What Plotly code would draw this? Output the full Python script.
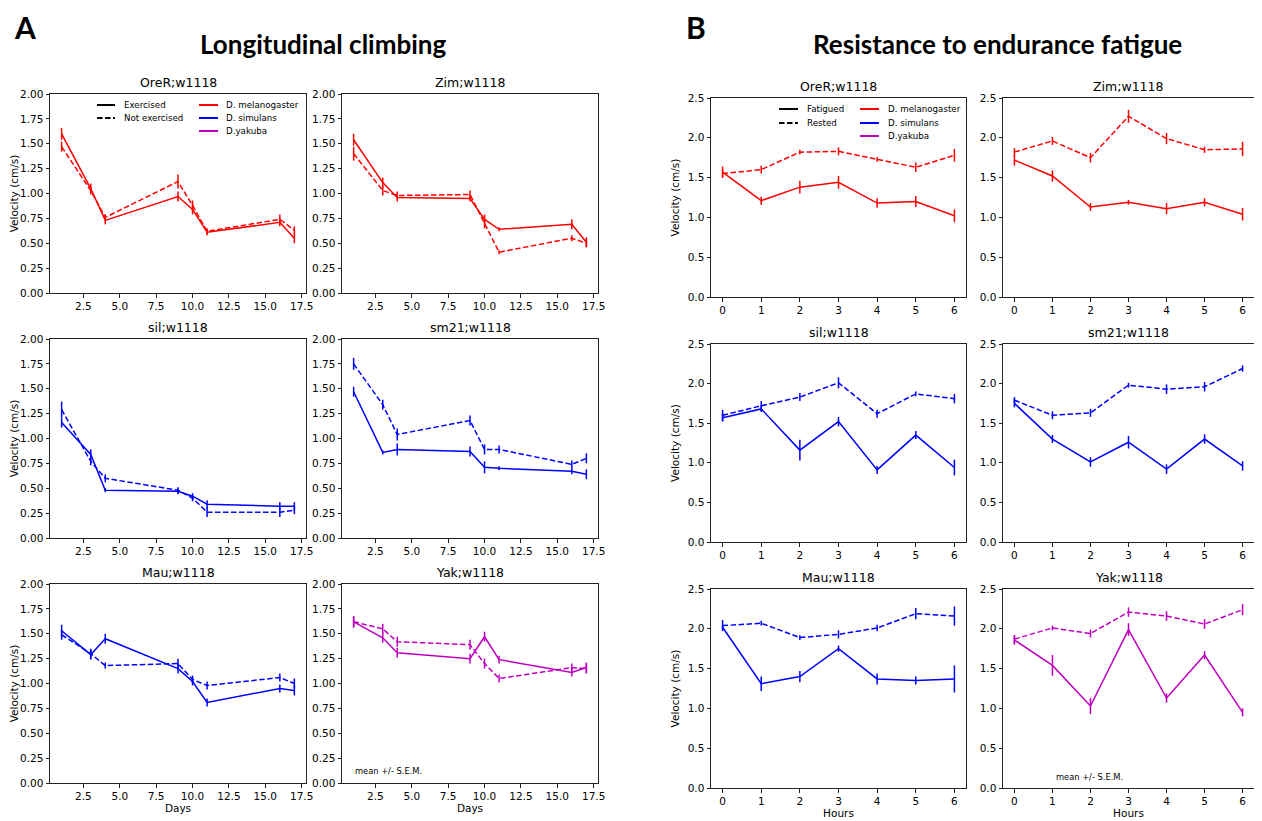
import plotly.graph_objects as go

W, H = 1262, 821
OFF = 8  # page body margin offset (pixels)

# ---------------- data ----------------
days = [1, 3, 4, 9, 10, 11, 16, 17]
hours = [0, 1, 2, 3, 4, 5, 6]

strains = ["OreR;w1118", "Zim;w1118", "sil;w1118", "sm21;w1118", "Mau;w1118", "Yak;w1118"]
strain_colors = ["#ff0000", "#ff0000", "#0000ff", "#0000ff", "#0000ff", "#bf00bf"]

# Panel A: longitudinal climbing (exercised = solid, not exercised = dashed)
climb_ex = [
    [1.60, 1.05, 0.73, 0.97, 0.84, 0.61, 0.71, 0.55],
    [1.54, 1.11, 0.96, 0.95, 0.74, 0.64, 0.69, 0.51],
    [1.16, 0.84, 0.48, 0.47, 0.42, 0.34, 0.32, 0.32],
    [1.47, 0.86, 0.89, 0.87, 0.71, 0.70, 0.67, 0.64],
    [1.53, 1.29, 1.45, 1.15, 1.02, 0.81, 0.95, 0.93],
    [1.62, 1.46, 1.31, 1.25, 1.47, 1.24, 1.11, 1.16],
]
climb_ex_err = [
    [0.06, 0.05, 0.04, 0.05, 0.05, 0.03, 0.04, 0.05],
    [0.06, 0.05, 0.04, 0.03, 0.05, 0.02, 0.05, 0.05],
    [0.05, 0.05, 0.02, 0.03, 0.03, 0.04, 0.04, 0.04],
    [0.05, 0.02, 0.06, 0.05, 0.06, 0.02, 0.03, 0.05],
    [0.06, 0.05, 0.05, 0.05, 0.04, 0.04, 0.04, 0.05],
    [0.06, 0.05, 0.05, 0.05, 0.05, 0.04, 0.04, 0.05],
]
climb_not = [
    [1.47, 1.03, 0.76, 1.12, 0.88, 0.62, 0.74, 0.63],
    [1.40, 1.03, 0.98, 0.99, 0.70, 0.41, 0.55, 0.50],
    [1.29, 0.77, 0.60, 0.48, 0.40, 0.26, 0.26, 0.28],
    [1.75, 1.34, 1.04, 1.18, 0.89, 0.89, 0.74, 0.80],
    [1.49, 1.30, 1.18, 1.20, 1.04, 0.98, 1.06, 1.00],
    [1.62, 1.55, 1.42, 1.39, 1.20, 1.05, 1.16, 1.15],
]
climb_not_err = [
    [0.05, 0.04, 0.03, 0.07, 0.05, 0.03, 0.05, 0.04],
    [0.07, 0.05, 0.04, 0.04, 0.05, 0.02, 0.03, 0.04],
    [0.08, 0.04, 0.04, 0.03, 0.03, 0.05, 0.05, 0.04],
    [0.06, 0.05, 0.06, 0.05, 0.05, 0.04, 0.04, 0.05],
    [0.05, 0.05, 0.03, 0.05, 0.04, 0.04, 0.04, 0.05],
    [0.05, 0.05, 0.05, 0.05, 0.05, 0.04, 0.04, 0.05],
]

# Panel B: endurance fatigue (fatigued = solid, rested = dashed)
fat = [
    [1.57, 1.21, 1.38, 1.44, 1.18, 1.20, 1.02],
    [1.72, 1.52, 1.13, 1.19, 1.11, 1.19, 1.04],
    [1.57, 1.68, 1.16, 1.52, 0.91, 1.35, 0.94],
    [1.75, 1.30, 1.01, 1.26, 0.92, 1.30, 0.96],
    [2.02, 1.31, 1.40, 1.75, 1.37, 1.35, 1.37],
    [1.86, 1.54, 1.03, 1.99, 1.13, 1.67, 0.95],
]
fat_err = [
    [0.07, 0.05, 0.08, 0.08, 0.06, 0.07, 0.08],
    [0.07, 0.07, 0.05, 0.03, 0.07, 0.05, 0.08],
    [0.05, 0.04, 0.13, 0.06, 0.05, 0.05, 0.10],
    [0.05, 0.05, 0.06, 0.08, 0.06, 0.06, 0.06],
    [0.03, 0.09, 0.07, 0.04, 0.07, 0.05, 0.17],
    [0.06, 0.13, 0.10, 0.08, 0.06, 0.05, 0.05],
]
rest = [
    [1.55, 1.60, 1.82, 1.83, 1.73, 1.63, 1.78],
    [1.82, 1.96, 1.75, 2.27, 1.99, 1.85, 1.86],
    [1.60, 1.72, 1.83, 2.01, 1.62, 1.87, 1.81],
    [1.79, 1.60, 1.63, 1.98, 1.93, 1.96, 2.19],
    [2.04, 2.07, 1.89, 1.93, 2.01, 2.19, 2.16],
    [1.87, 2.01, 1.94, 2.21, 2.16, 2.06, 2.24],
]
rest_err = [
    [0.05, 0.05, 0.03, 0.05, 0.03, 0.06, 0.08],
    [0.05, 0.05, 0.06, 0.08, 0.07, 0.04, 0.09],
    [0.07, 0.06, 0.05, 0.07, 0.05, 0.03, 0.06],
    [0.04, 0.05, 0.05, 0.03, 0.06, 0.06, 0.04],
    [0.07, 0.03, 0.03, 0.05, 0.04, 0.07, 0.12],
    [0.05, 0.03, 0.05, 0.06, 0.06, 0.06, 0.07],
]

species_names = ["D. melanogaster", "D. simulans", "D.yakuba"]
species_colors = ["#ff0000", "#0000ff", "#bf00bf"]

# ---------------- layout geometry (screen pixels) ----------------
A_cols = [(50, 306), (342, 598)]
A_rows = [(94, 293), (339, 538), (584, 783)]
B_cols = [(711, 966), (1003, 1254)]
B_rows = [(98, 297), (344, 542), (589, 788)]


def px_x(p):
    return (p - OFF) / W


def px_y(p):
    return 1 - (p - OFF) / H


def xd(a, b):
    return [px_x(a), px_x(b)]


def yd(top, bot):
    return [px_y(bot), px_y(top)]


FONT = "DejaVu Sans"
fig = go.Figure()
layout = dict(
    width=W, height=H, margin=dict(l=0, r=0, t=0, b=0, autoexpand=False),
    paper_bgcolor="white", plot_bgcolor="white", showlegend=False,
    font=dict(family=FONT, size=10.5, color="black"),
)
annotations = []
shapes = []

axis_common = dict(showgrid=False, zeroline=False, showline=True, linecolor="#222",
                   linewidth=1, mirror=True, ticks="outside", ticklen=3.5, tickwidth=1,
                   automargin=False,
                   tickcolor="#222", tickfont=dict(family=FONT, size=10.5, color="black"))

ax = 0
for panel in ["A", "B"]:
    for i in range(6):
        ax += 1
        r, c = divmod(i, 2)
        xn = "x" if ax == 1 else f"x{ax}"
        yn = "y" if ax == 1 else f"y{ax}"
        xk = "xaxis" if ax == 1 else f"xaxis{ax}"
        yk = "yaxis" if ax == 1 else f"yaxis{ax}"
        color = strain_colors[i]
        if panel == "A":
            cx, ry = A_cols[c], A_rows[r]
            xs = days
            s1, e1, s2, e2 = climb_ex[i], climb_ex_err[i], climb_not[i], climb_not_err[i]
            xa = dict(range=[0.2, 17.8], tickvals=[2.5, 5, 7.5, 10, 12.5, 15, 17.5], tickformat=".1f")
            ya = dict(range=[0, 2.0], tickvals=[0, 0.25, 0.5, 0.75, 1.0, 1.25, 1.5, 1.75, 2.0],
                      tickformat=".2f")
            xtitle = "Days"
        else:
            cx, ry = B_cols[c], B_rows[r]
            xs = hours
            s1, e1, s2, e2 = fat[i], fat_err[i], rest[i], rest_err[i]
            xa = dict(range=[-0.3, 6.3], tickvals=hours, tickformat="d")
            ya = dict(range=[0, 2.5], tickvals=[0, 0.5, 1.0, 1.5, 2.0, 2.5], tickformat=".1f")
            xtitle = "Hours"
        xa.update(axis_common, domain=xd(*cx), anchor=yn)
        ya.update(axis_common, domain=yd(*ry), anchor=xn)
        if c == 0:
            ya["title"] = dict(text="Velocity (cm/s)", font=dict(family=FONT, size=10.5), standoff=6)
        if r == 2:
            xa["title"] = dict(text=xtitle, font=dict(family=FONT, size=10.5), standoff=2)
        layout[xk] = xa
        layout[yk] = ya

        fig.add_trace(go.Scatter(
            x=xs, y=s2, mode="lines", xaxis=xn, yaxis=yn,
            line=dict(color=color, width=1.5, dash="5.5px,2.5px"),
            error_y=dict(type="data", array=e2, color=color, thickness=1.5, width=0)))
        fig.add_trace(go.Scatter(
            x=xs, y=s1, mode="lines", xaxis=xn, yaxis=yn,
            line=dict(color=color, width=1.5),
            error_y=dict(type="data", array=e1, color=color, thickness=1.5, width=0)))

        annotations.append(dict(text=strains[i], xref=f"{xn} domain", yref=f"{yn} domain",
                                x=0.5, y=1, yanchor="bottom", xanchor="center", yshift=2,
                                showarrow=False, font=dict(family=FONT, size=12.5)))

        # legends in first subplot of each panel
        if i == 0:
            x0 = cx[0]
            top = ry[0]
            if panel == "A":
                styles = ["Exercised", "Not exercised"]
                l1 = (97 - x0, 115 - x0, 122 - x0)
                l2 = (199 - x0, 218 - x0, 224 - x0)
                ys = [105 - top, 118 - top, 131 - top]
            else:
                styles = ["Fatigued", "Rested"]
                l1 = (779 - x0, 798 - x0, 805 - x0)
                l2 = (860 - x0, 879 - x0, 886 - x0)
                ys = [109 - top, 123 - top, 136 - top]
            wpx = cx[1] - cx[0]
            hpx = ry[1] - ry[0]
            for k, lab in enumerate(styles):
                yy = 1 - ys[k] / hpx
                shapes.append(dict(type="line", xref=f"{xn} domain", yref=f"{yn} domain",
                                   x0=l1[0] / wpx, x1=l1[1] / wpx, y0=yy, y1=yy,
                                   line=dict(color="black", width=2,
                                             dash="solid" if k == 0 else "5.5px,2.5px")))
                annotations.append(dict(text=lab, xref=f"{xn} domain", yref=f"{yn} domain",
                                        x=l1[2] / wpx, y=yy, xanchor="left", yanchor="middle",
                                        showarrow=False, font=dict(family=FONT, size=8.7)))
            for k, lab in enumerate(species_names):
                yy = 1 - ys[k] / hpx
                shapes.append(dict(type="line", xref=f"{xn} domain", yref=f"{yn} domain",
                                   x0=l2[0] / wpx, x1=l2[1] / wpx, y0=yy, y1=yy,
                                   line=dict(color=species_colors[k], width=2)))
                annotations.append(dict(text=lab, xref=f"{xn} domain", yref=f"{yn} domain",
                                        x=l2[2] / wpx, y=yy, xanchor="left", yanchor="middle",
                                        showarrow=False, font=dict(family=FONT, size=8.7)))
        if i == 5:
            wpx = cx[1] - cx[0]
            hpx = ry[1] - ry[0]
            if panel == "A":
                px, py = 353, 771
            else:
                px, py = 1054, 777
            annotations.append(dict(text="mean +/- S.E.M.", xref=f"{xn} domain", yref=f"{yn} domain",
                                    x=(px - cx[0]) / wpx, y=1 - (py - ry[0]) / hpx,
                                    xanchor="left", yanchor="middle", showarrow=False,
                                    font=dict(family=FONT, size=8.3)))

# panel letters and headers
big = "Lato"
annotations += [
    dict(text="<b>A</b>", xref="paper", yref="paper", x=px_x(13), y=1, xanchor="left",
         yanchor="top", borderpad=0, showarrow=False,
         font=dict(family=big, size=30, color="black")),
    dict(text="<b>B</b>", xref="paper", yref="paper", x=px_x(685), y=1, xanchor="left",
         yanchor="top", borderpad=0, showarrow=False,
         font=dict(family=big, size=30, color="black")),
    dict(text="<b>Longitudinal climbing</b>", xref="paper", yref="paper", x=px_x(323),
         y=px_y(44), xanchor="center", yanchor="middle", showarrow=False,
         font=dict(family=big, size=26, color="black")),
    dict(text="<b>Resistance to endurance fatigue</b>", xref="paper", yref="paper", x=px_x(997),
         y=px_y(44), xanchor="center", yanchor="middle", showarrow=False,
         font=dict(family=big, size=26, color="black")),
]

layout["annotations"] = annotations
layout["shapes"] = shapes
fig.update_layout(**layout)
fig.write_html("out.html")
